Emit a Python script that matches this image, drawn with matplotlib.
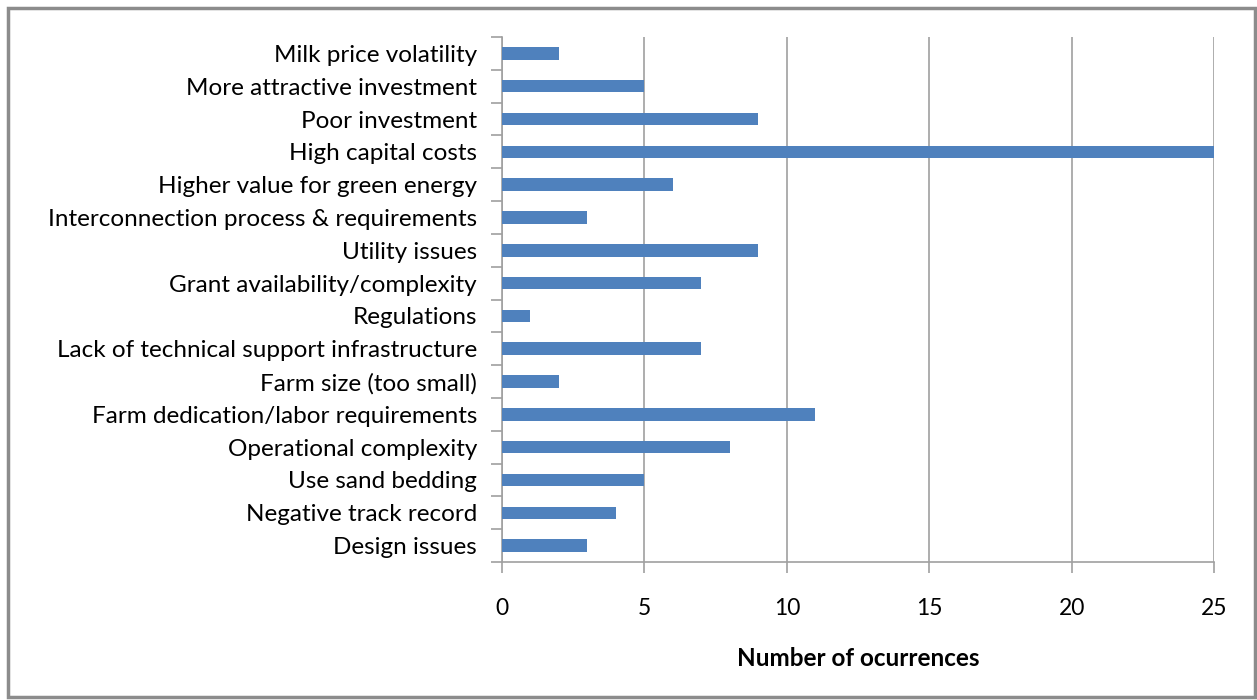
import numpy as np
import matplotlib.pyplot as plt
from matplotlib.patches import Rectangle

categories = ['Milk price volatility', 'More attractive investment', 'Poor investment',
              'High capital costs', 'Higher value for green energy',
              'Interconnection process & requirements', 'Utility issues',
              'Grant availability/complexity', 'Regulations',
              'Lack of technical support infrastructure', 'Farm size (too small)',
              'Farm dedication/labor requirements', 'Operational complexity',
              'Use sand bedding', 'Negative track record', 'Design issues']
counts = [2, 5, 9, 25, 6, 3, 9, 7, 1, 7, 2, 11, 8, 5, 4, 3]
xticks = [0, 5, 10, 15, 20, 25]

plt.rcParams['font.family'] = ['Lato', 'DejaVu Sans']

fig = plt.figure(figsize=(12.57, 7), dpi=100)
ax = fig.add_axes([502/1257, 1 - 562/700, (1214-502)/1257, (562-37)/700])

n = len(categories)
y = np.arange(n)[::-1]
ax.barh(y, counts, height=0.38, color='#4F81BD', zorder=3)

ax.set_xlim(0, 25)
ax.set_ylim(-0.5, n - 0.5)
ax.set_xticks(xticks)
ax.set_xticklabels([str(t) for t in xticks], fontsize=16.5)
ax.set_yticks(y)
ax.set_yticklabels(categories, fontsize=17.5)
ax.set_yticks(np.arange(n + 1) - 0.5, minor=True)
ax.tick_params(axis='y', which='major', length=0, pad=18)
ax.tick_params(axis='y', which='minor', length=8, color='#a0a0a0', width=1.2)
ax.tick_params(axis='x', length=8, color='#a0a0a0', width=1.2, pad=18)
ax.grid(axis='x', color='#a0a0a0', linewidth=1.2, zorder=0)

for s in ['top', 'right']:
    ax.spines[s].set_visible(False)
for s in ['left', 'bottom']:
    ax.spines[s].set_color('#a0a0a0')
    ax.spines[s].set_linewidth(1.2)

ax.set_xlabel('Number of ocurrences', fontsize=17.5, fontweight='bold', labelpad=20)

fig.patches.append(Rectangle((8/1257, 3/700), 1247/1257, 689/700, transform=fig.transFigure,
                             fill=False, edgecolor='#8c8c8c', linewidth=2.5))

fig.savefig('out.png', dpi=100)
